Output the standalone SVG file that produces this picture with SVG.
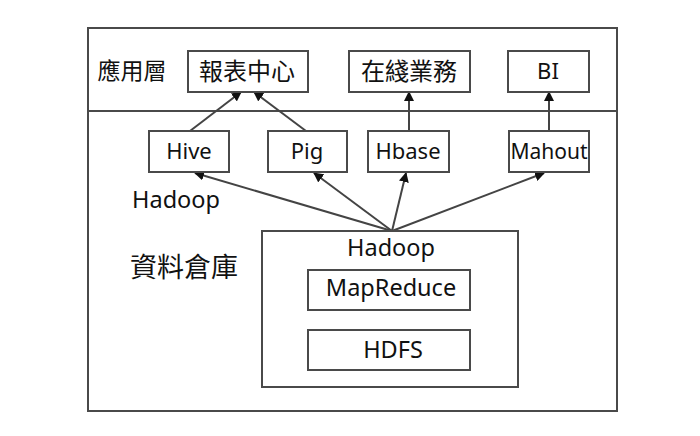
<svg xmlns="http://www.w3.org/2000/svg" width="700" height="436" viewBox="0 0 700 436">
<style>
.box{fill:#fff;stroke:#4a4a4a;stroke-width:2}
.t{font-family:"Noto Sans","Noto Sans CJK TC",sans-serif;font-size:22px;fill:#111;text-anchor:middle}
.c{font-family:"Noto Sans CJK TC","Noto Sans",sans-serif;font-size:24px;fill:#111;text-anchor:middle}
.ln{stroke:#444;stroke-width:2;fill:none;marker-end:url(#ah)}
</style>
<defs>
<marker id="ah" viewBox="0 0 10 10" refX="9" refY="5" markerWidth="5" markerHeight="5" orient="auto" markerUnits="strokeWidth">
<path d="M0,0L10,5L0,10z" fill="#111"/>
</marker>
</defs>
<rect width="700" height="436" fill="#fff"/>
<g id="outer">
<rect class="box" x="88" y="28" width="529" height="383"/>
<line x1="88" y1="111" x2="617" y2="111" stroke="#4a4a4a" stroke-width="2"/>
</g>
<g id="app-layer-label"><text class="c" x="132" y="79" style="font-size:23px">應用層</text></g>
<g id="dw-label"><text class="c" x="184" y="277" style="font-size:27px">資料倉庫</text></g>
<g id="hadoop-label"><text class="t" x="176" y="208" style="font-size:23.5px">Hadoop</text></g>
<g id="connectors">
<line class="ln" x1="190" y1="131" x2="241" y2="92"/>
<line class="ln" x1="306" y1="131" x2="254" y2="92"/>
<line class="ln" x1="409" y1="131" x2="409" y2="92"/>
<line class="ln" x1="549" y1="131" x2="549" y2="92"/>
<line class="ln" x1="392" y1="231" x2="195" y2="173"/>
<line class="ln" x1="392" y1="231" x2="314" y2="173"/>
<line class="ln" x1="392" y1="231" x2="406" y2="173"/>
<line class="ln" x1="392" y1="231" x2="544" y2="173"/>
</g>
<g id="n-report"><rect class="box" x="188" y="51" width="120" height="41"/><text class="c" x="247" y="80">報表中心</text></g>
<g id="n-online"><rect class="box" x="349" y="51" width="121" height="41"/><text class="c" x="409" y="80">在綫業務</text></g>
<g id="n-bi"><rect class="box" x="508" y="51" width="81" height="41"/><text class="t" x="548" y="79">BI</text></g>
<g id="n-hive"><rect class="box" x="149" y="131" width="80" height="41"/><text class="t" x="189" y="159">Hive</text></g>
<g id="n-pig"><rect class="box" x="268" y="131" width="79" height="41"/><text class="t" x="307" y="159">Pig</text></g>
<g id="n-hbase"><rect class="box" x="368" y="131" width="81" height="41"/><text class="t" x="408" y="159">Hbase</text></g>
<g id="n-mahout"><rect class="box" x="509" y="131" width="80" height="41"/><text class="t" x="549" y="159" style="font-size:21px">Mahout</text></g>
<g id="n-hadoop">
<rect class="box" x="262" y="231" width="256" height="156"/>
<text class="t" x="391" y="256" style="font-size:23.5px">Hadoop</text>
</g>
<g id="n-mapreduce"><rect class="box" x="308" y="270" width="162" height="40"/><text class="t" x="391" y="296" style="font-size:23.5px">MapReduce</text></g>
<g id="n-hdfs"><rect class="box" x="308" y="330" width="162" height="40"/><text class="t" x="393" y="358" style="font-size:23.5px">HDFS</text></g>
</svg>
